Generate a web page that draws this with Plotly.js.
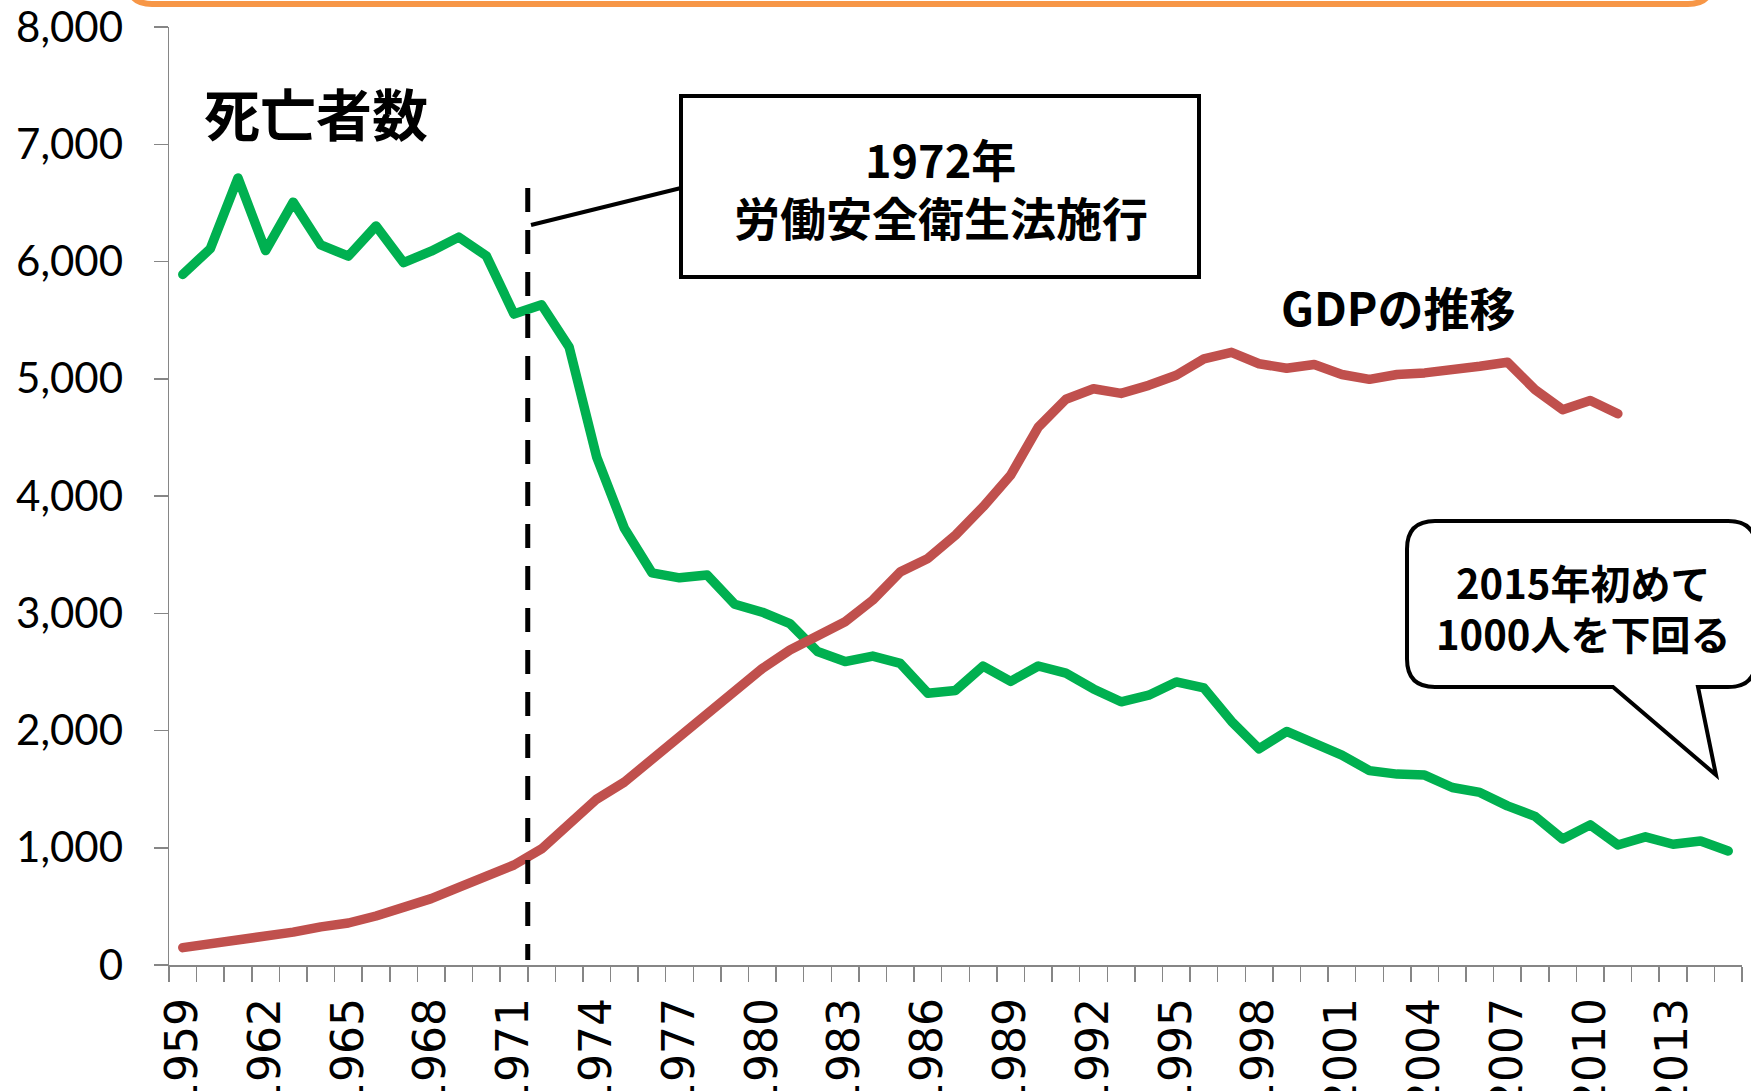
<!DOCTYPE html>
<html><head><meta charset="utf-8">
<script src="https://cdn.plot.ly/plotly-3.0.1.min.js"></script>
<style>
html,body{margin:0;padding:0;background:#fff;}
#chart{width:1751px;height:1091px;}
.scatterlayer path.js-line{stroke-linejoin:round;stroke-linecap:round;}
</style>
</head><body><div id="chart"></div>
<script>
// ---- data ----
const years = [1959,1960,1961,1962,1963,1964,1965,1966,1967,1968,1969,1970,1971,1972,1973,1974,1975,1976,1977,1978,
  1979,1980,1981,1982,1983,1984,1985,1986,1987,1988,1989,1990,1991,1992,1993,1994,1995,1996,1997,1998,
  1999,2000,2001,2002,2003,2004,2005,2006,2007,2008,2009,2010,2011,2012,2013,2014,2015];
const deaths = [5890,6110,6712,6093,6506,6141,6046,6303,5990,6088,6208,6048,5552,5631,5269,4330,3725,3345,3302,3326,
  3077,3009,2912,2674,2588,2635,2572,2318,2342,2549,2419,2550,2489,2354,2245,2301,2414,2363,2078,1844,
  1992,1889,1790,1658,1628,1620,1514,1472,1357,1268,1075,1195,1024,1093,1030,1057,972];
const gdpYears = [1959,1960,1961,1962,1963,1964,1965,1966,1967,1968,1969,1970,1971,1972,1973,1974,1975,1976,1977,1978,
  1979,1980,1981,1982,1983,1984,1985,1986,1987,1988,1989,1990,1991,1992,1993,1994,1995,1996,1997,1998,
  1999,2000,2001,2002,2003,2004,2005,2006,2007,2008,2009,2010,2011];
const gdp = [148,180,220,240,280,325,358,418,482,566,662,765,853,990,1190,1415,1560,1755,1944,2131,
  2316,2529,2686,2799,2927,3112,3353,3467,3666,3908,4178,4588,4825,4915,4875,4944,5030,5170,5225,5128,
  5089,5121,5036,4995,5036,5050,5073,5107,5141,4907,4736,4814,4702];
const tickYears = [1959,1962,1965,1968,1971,1974,1977,1980,1983,1986,1989,1992,1995,1998,2001,2004,2007,2010,2013];
const yTicks = [0,1000,2000,3000,4000,5000,6000,7000,8000];
const lawYear = 1971.5;

const labelDeaths = '死亡者数';
const labelGdp = 'GDPの推移';
const boxLine1 = '1972年';
const boxLine2 = '労働安全衛生法施行';
const bubbleLine1 = '2015年初めて';
const bubbleLine2 = '1000人を下回る';

// ---- layout helpers (pixel -> paper) ----
const M = {l:169, r:9, t:27, b:126};
const W = 1751, H = 1091;
const PW = W - M.l - M.r, PH = H - M.t - M.b;
const X = px => (px - M.l) / PW;
const Y = py => (H - M.b - py) / PH;

const CJK = '"Noto Sans CJK JP", "Noto Sans CJK SC", sans-serif';

function roundRectPath(L, T, R, B, r) {
  return `M${X(L+r)},${Y(T)} L${X(R-r)},${Y(T)} Q${X(R)},${Y(T)} ${X(R)},${Y(T+r)} ` +
         `L${X(R)},${Y(B-r)} Q${X(R)},${Y(B)} ${X(R-r)},${Y(B)} L${X(L+r)},${Y(B)} ` +
         `Q${X(L)},${Y(B)} ${X(L)},${Y(B-r)} L${X(L)},${Y(T+r)} Q${X(L)},${Y(T)} ${X(L+r)},${Y(T)} Z`;
}
function bubblePath(L, T, R, B, r, t1, tip, t2) {
  return `M${X(L+r)},${Y(T)} L${X(R-r)},${Y(T)} Q${X(R)},${Y(T)} ${X(R)},${Y(T+r)} ` +
         `L${X(R)},${Y(B-r)} Q${X(R)},${Y(B)} ${X(R-r)},${Y(B)} L${X(t2)},${Y(B)} ` +
         `L${X(tip[0])},${Y(tip[1])} L${X(t1)},${Y(B)} L${X(L+r)},${Y(B)} ` +
         `Q${X(L)},${Y(B)} ${X(L)},${Y(B-r)} L${X(L)},${Y(T+r)} Q${X(L)},${Y(T)} ${X(L+r)},${Y(T)} Z`;
}

const traces = [
  {x: years, y: deaths, type: 'scatter', mode: 'lines', line: {color: '#00B050', width: 9.5}, hoverinfo: 'skip'},
  {x: gdpYears, y: gdp, type: 'scatter', mode: 'lines', line: {color: '#C0504D', width: 9.5}, hoverinfo: 'skip'}
];

const axisGrey = '#868686';
const layout = {
  width: W, height: H,
  margin: M,
  paper_bgcolor: '#fff', plot_bgcolor: '#fff',
  showlegend: false,
  hovermode: false,
  xaxis: {
    type: 'linear', range: [years[0] - 0.5, years[years.length - 1] + 0.5],
    tickmode: 'array', tickvals: tickYears, ticktext: tickYears.map(String),
    tickangle: -90, ticks: '',
    minor: {ticks: 'outside', ticklen: 15, tickwidth: 1.5, tickcolor: axisGrey,
            tick0: years[0] - 0.5, dtick: 1, showgrid: false},
    showline: true, linecolor: axisGrey, linewidth: 1.5,
    showgrid: false, zeroline: false, automargin: false,
    ticklabelstandoff: 14,
    tickfont: {family: '"DejaVu Sans", sans-serif', size: 44, color: '#000'}
  },
  yaxis: {
    range: [0, 8000], tickmode: 'array', tickvals: yTicks,
    ticktext: yTicks.map(v => v.toLocaleString('en-US')),
    ticks: 'outside', ticklen: 14, tickwidth: 1.5, tickcolor: axisGrey,
    showline: true, linecolor: axisGrey, linewidth: 1.5,
    showgrid: false, zeroline: false, automargin: false,
    ticklabelstandoff: 22,
    tickfont: {family: 'Lato, sans-serif', size: 42, color: '#000'}
  },
  shapes: [
    {type: 'path', xref: 'paper', yref: 'paper', path: roundRectPath(128, -120, 1712, 4, 24),
     line: {color: '#F79646', width: 6}, fillcolor: 'rgba(0,0,0,0)', layer: 'above'},
    {type: 'line', xref: 'x', yref: 'paper', x0: lawYear, x1: lawYear, y0: Y(188), y1: Y(960),
     line: {color: '#000', width: 5, dash: '24px,18px'}},
    {type: 'line', xref: 'paper', yref: 'paper', x0: X(531), y0: Y(225), x1: X(681), y1: Y(188),
     line: {color: '#000', width: 4}},
    {type: 'rect', xref: 'paper', yref: 'paper', x0: X(681), x1: X(1199), y0: Y(277), y1: Y(96),
     line: {color: '#000', width: 4}, fillcolor: '#fff'},
    {type: 'path', xref: 'paper', yref: 'paper',
     path: bubblePath(1407, 521, 1756, 687, 28, 1613, [1716, 775], 1698),
     line: {color: '#000', width: 4}, fillcolor: '#fff'}
  ],
  annotations: [
    {text: labelDeaths, xref: 'paper', yref: 'paper', x: X(316), y: Y(111), showarrow: false,
     xanchor: 'center', yanchor: 'middle', font: {family: CJK, size: 56, weight: 'bold', color: '#000'}},
    {text: boxLine1, xref: 'paper', yref: 'paper', x: X(940), y: Y(158), showarrow: false,
     xanchor: 'center', yanchor: 'middle', font: {family: CJK, size: 45, weight: 'bold', color: '#000'}},
    {text: boxLine2, xref: 'paper', yref: 'paper', x: X(941), y: Y(216), showarrow: false,
     xanchor: 'center', yanchor: 'middle', font: {family: CJK, size: 46, weight: 'bold', color: '#000'}},
    {text: labelGdp, xref: 'paper', yref: 'paper', x: X(1398), y: Y(306), showarrow: false,
     xanchor: 'center', yanchor: 'middle', font: {family: CJK, size: 46, weight: 'bold', color: '#000'}},
    {text: bubbleLine1, xref: 'paper', yref: 'paper', x: X(1583), y: Y(582), showarrow: false,
     xanchor: 'center', yanchor: 'middle', font: {family: CJK, size: 40, weight: 'bold', color: '#000'}},
    {text: bubbleLine2, xref: 'paper', yref: 'paper', x: X(1583), y: Y(633), showarrow: false,
     xanchor: 'center', yanchor: 'middle', font: {family: CJK, size: 40, weight: 'bold', color: '#000'}}
  ]
};

Plotly.newPlot('chart', traces, layout, {displayModeBar: false, staticPlot: true});
</script>
</body></html>
